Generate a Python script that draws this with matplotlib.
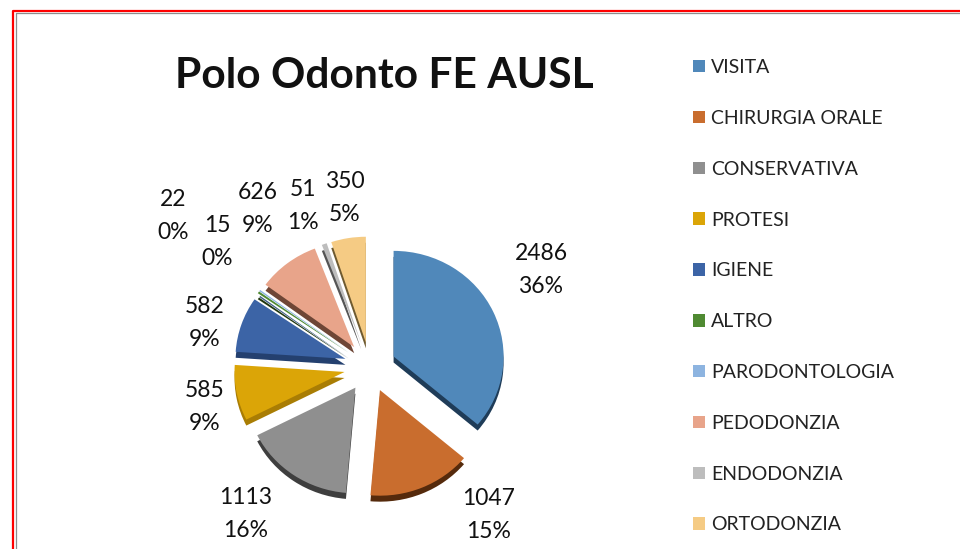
import matplotlib
matplotlib.use('Agg')
import matplotlib.pyplot as plt
from matplotlib.lines import Line2D

W, H = 960, 549
Y_SCALE = 0.96  # the pie is slightly tilted in the original

categories = ['VISITA', 'CHIRURGIA ORALE', 'CONSERVATIVA', 'PROTESI', 'IGIENE',
              'ALTRO', 'PARODONTOLOGIA', 'PEDODONZIA', 'ENDODONZIA', 'ORTODONZIA']
values = [2486, 1047, 1113, 585, 582, 22, 15, 626, 51, 350]
percents = ['36%', '15%', '16%', '9%', '9%', '0%', '0%', '9%', '1%', '5%']

colors = ['#5088BA', '#C96D2E', '#8F8F8F', '#DBA507', '#3C64A6',
          '#4F8A32', '#8DB4E0', '#E8A48A', '#BDBDBD', '#F5CB84']
side_colors = ['#1F3C58', '#552A0C', '#3E3E3E', '#A97D04', '#24406F',
               '#21380F', '#3F5E85', '#6E4636', '#555555', '#6E5A30']

# label centres in image pixels
label_xy = [(541, 270), (489, 515), (246, 514), (205, 407), (205, 323),
            (173, 216), (217, 242), (258, 209), (303, 206), (345, 198)]


def to_fig(x, y):
    return x / W, 1 - y / H


plt.rcParams['font.family'] = ['Lato', 'DejaVu Sans']
fig = plt.figure(figsize=(W / 100, H / 100), dpi=100)
ax = fig.add_axes([0, 0, 1, 1])

center_x, center_y = 370, 367
depth = 6
explode = [26] * len(values)  # pie() takes these in data units here

# dark copy underneath gives the 3D side of the slices
ax.pie(values, colors=side_colors, explode=explode, startangle=90, counterclock=False,
       radius=110, center=(center_x, (H - center_y - depth) / Y_SCALE), frame=True)
wedges, _ = ax.pie(values, colors=colors, explode=explode, startangle=90, counterclock=False,
                   radius=110, center=(center_x, (H - center_y) / Y_SCALE), frame=True)
ax.set_aspect('auto')
ax.set_xlim(0, W)
ax.set_ylim(0, H / Y_SCALE)
ax.axis('off')

for value, pct, (x, y) in zip(values, percents, label_xy):
    fx, fy = to_fig(x, y)
    fig.text(fx, fy, f'{value}\n{pct}', ha='center', va='center', fontsize=16.5,
             linespacing=1.72, color='#111111')

fx, fy = to_fig(384, 76)
fig.text(fx, fy, 'Polo Odonto FE AUSL', ha='center', va='center', fontsize=30.6,
         fontweight='bold', color='#111111')

ax.legend(wedges, categories, loc='upper left', bbox_to_anchor=(692.5 / W, 1 - 59 / H),
          frameon=False, fontsize=14, labelspacing=1.74, handlelength=0.62, handleheight=0.62,
          handletextpad=0.33, labelcolor='#222222', borderpad=0, borderaxespad=0)

# red frame of the screenshot with the grey chart border inside it
fig.add_artist(Line2D([13 / W, 13 / W, 1], [0, 1 - 11 / H, 1 - 11 / H], color='#FF0000', lw=1.6))
fig.add_artist(Line2D([15.5 / W, 15.5 / W, 1], [0, 1 - 13 / H, 1 - 13 / H], color='#8C8C8C', lw=0.9))

fig.savefig('out.png', dpi=100)
